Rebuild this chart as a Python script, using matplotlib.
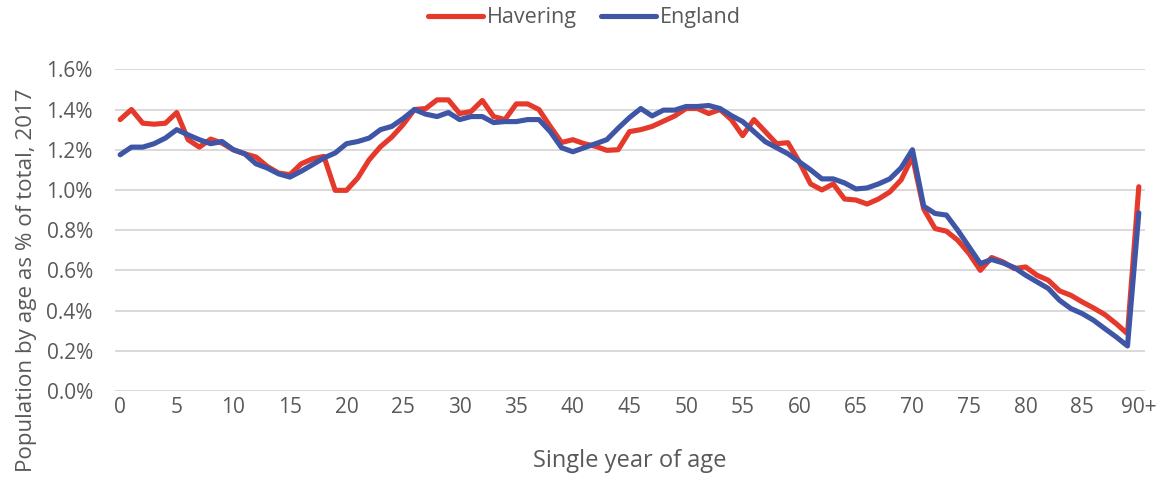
import matplotlib
matplotlib.use("Agg")
import matplotlib.pyplot as plt
from matplotlib.ticker import FuncFormatter

# Single year of age, 0 .. 90+ (last bucket is 90 and over)
ages = list(range(91))

# Share of total population at each single year of age, 2017 (%)
havering = [
    1.35, 1.40, 1.332, 1.327, 1.332, 1.385, 1.25, 1.213, 1.253, 1.233,
    1.20, 1.18, 1.164, 1.117, 1.084, 1.076, 1.13, 1.155, 1.167, 0.998,
    0.998, 1.06, 1.15, 1.215, 1.263, 1.325, 1.40, 1.405, 1.448, 1.448,
    1.38, 1.39, 1.445, 1.365, 1.35, 1.428, 1.428, 1.40, 1.316, 1.236,
    1.25, 1.23, 1.217, 1.197, 1.20, 1.29, 1.30, 1.316, 1.342, 1.368,
    1.405, 1.405, 1.38, 1.40, 1.35, 1.27, 1.35, 1.29, 1.23, 1.235,
    1.14, 1.03, 1.00, 1.03, 0.955, 0.95, 0.93, 0.955, 0.99, 1.05,
    1.165, 0.905, 0.808, 0.795, 0.75, 0.684, 0.60, 0.664, 0.642, 0.609,
    0.617, 0.576, 0.551, 0.498, 0.476, 0.443, 0.413, 0.38, 0.335, 0.285,
    1.016,
]

england = [
    1.175, 1.213, 1.213, 1.23, 1.258, 1.30, 1.274, 1.25, 1.23, 1.241,
    1.20, 1.18, 1.13, 1.109, 1.08, 1.064, 1.093, 1.126, 1.159, 1.184,
    1.23, 1.241, 1.258, 1.30, 1.316, 1.355, 1.40, 1.377, 1.365, 1.385,
    1.35, 1.365, 1.365, 1.335, 1.34, 1.34, 1.35, 1.35, 1.29, 1.21,
    1.19, 1.21, 1.23, 1.25, 1.307, 1.36, 1.405, 1.368, 1.397, 1.397,
    1.415, 1.415, 1.42, 1.405, 1.37, 1.34, 1.29, 1.24, 1.21, 1.18,
    1.14, 1.10, 1.055, 1.055, 1.035, 1.005, 1.01, 1.03, 1.055, 1.11,
    1.20, 0.919, 0.883, 0.875, 0.80, 0.717, 0.634, 0.654, 0.637, 0.614,
    0.576, 0.543, 0.51, 0.451, 0.41, 0.385, 0.352, 0.31, 0.269, 0.224,
    0.886,
]

tick_positions = list(range(0, 91, 5))
tick_labels = [str(a) for a in range(0, 90, 5)] + ["90+"]
y_ticks = [0.0, 0.2, 0.4, 0.6, 0.8, 1.0, 1.2, 1.4, 1.6]

RED = "#E5392B"
BLUE = "#3E56A5"
TEXT = "#595959"
GRID = "#D9D9D9"

plt.rcParams["font.family"] = ["Open Sans", "DejaVu Sans"]

fig = plt.figure(figsize=(11.62, 4.80), dpi=100)
ax = fig.add_axes([0.099, 0.1854, 0.8864, 0.6702])

ax.plot(ages, havering, color=RED, lw=3.7, solid_joinstyle="round",
        solid_capstyle="round", label="Havering", zorder=3)
ax.plot(ages, england, color=BLUE, lw=3.7, solid_joinstyle="round",
        solid_capstyle="round", label="England", zorder=4)

ax.set_xlim(-0.45, 90.55)
ax.set_ylim(0, 1.6)
ax.set_yticks(y_ticks)
ax.yaxis.set_major_formatter(FuncFormatter(lambda v, _: f"{v:.1f}%"))
ax.set_xticks(tick_positions)
ax.set_xticklabels(tick_labels)

ax.grid(axis="y", color=GRID, lw=1.4)
ax.set_axisbelow(True)
for s in ax.spines.values():
    s.set_visible(False)
ax.tick_params(axis="both", length=0, labelsize=15, labelcolor=TEXT)
ax.tick_params(axis="x", pad=4)
ax.tick_params(axis="y", pad=16)

ax.set_xlabel("Single year of age", fontsize=17, color=TEXT)
ax.set_ylabel("Population by age as % of total, 2017", fontsize=16.1,
              color=TEXT)
ax.xaxis.set_label_coords(0.5, -0.18)
ax.yaxis.set_label_coords(-0.076, 0.345)

leg = fig.legend(loc="center", bbox_to_anchor=(0.503, 0.963), ncol=2,
                 frameon=False, fontsize=15.5, handlelength=2.55,
                 handletextpad=0.2, columnspacing=1.1)
for t in leg.get_texts():
    t.set_color(TEXT)

fig.savefig("out.png", dpi=100)
